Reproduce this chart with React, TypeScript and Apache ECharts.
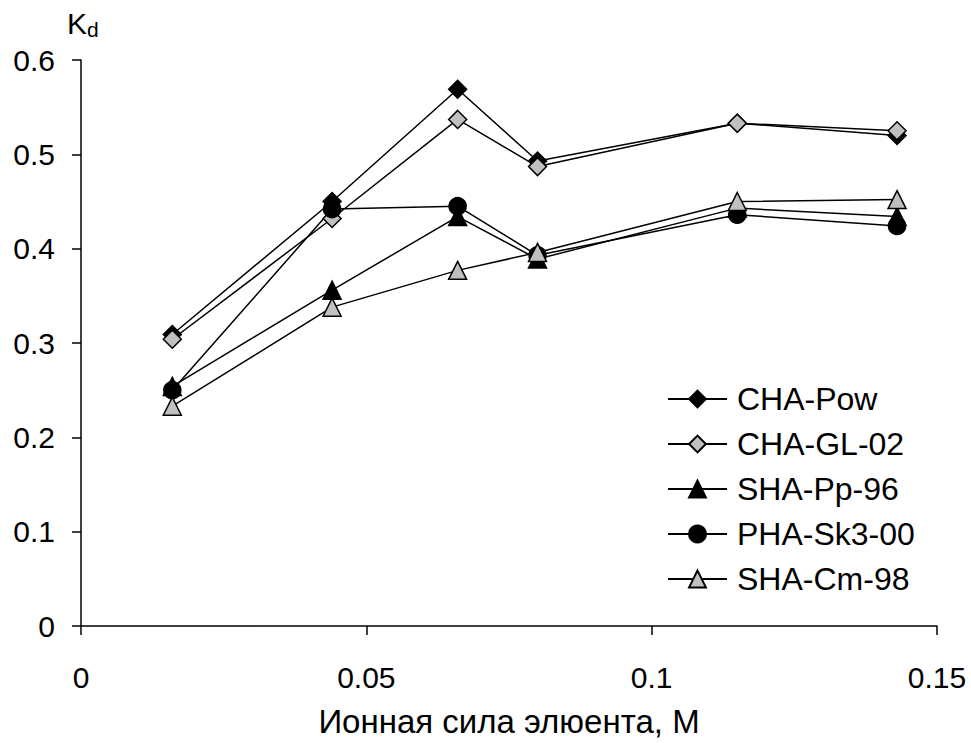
import React, { useEffect, useRef } from "react";
import * as echarts from "echarts";

const xValues = [0.016, 0.044, 0.066, 0.08, 0.115, 0.143];
const chaPow = [0.309, 0.45, 0.569, 0.493, 0.533, 0.52];
const chaGl02 = [0.304, 0.432, 0.537, 0.487, 0.533, 0.525];
const shaPp96 = [0.254, 0.356, 0.434, 0.389, 0.443, 0.434];
const phaSk300 = [0.25, 0.442, 0.445, 0.393, 0.436, 0.424];
const shaCm98 = [0.233, 0.338, 0.377, 0.396, 0.45, 0.452];

const seriesNames = ["CHA-Pow", "CHA-GL-02", "SHA-Pp-96", "PHA-Sk3-00", "SHA-Cm-98"];
const xTicks = [0, 0.05, 0.1, 0.15];
const xTitle = "Ионная сила элюента, M";

const FONT = "Liberation Sans, Arial, sans-serif";

function pairs(ys: number[]) {
  return xValues.map((x, i) => [x, ys[i]]);
}

export default function App() {
  const ref = useRef<HTMLDivElement>(null);
  useEffect(() => {
    if (!ref.current) return;
    const chart = echarts.init(ref.current, undefined, { renderer: "svg" });
    const mk = (name: string, ys: number[], symbol: string, fill: string, size: number) => ({
      name,
      type: "line",
      data: pairs(ys),
      symbol,
      symbolSize: size,
      showAllSymbol: true,
      lineStyle: { color: "#000", width: 1.5 },
      itemStyle: { color: fill, borderColor: "#000", borderWidth: 1.5 },
      emphasis: { disabled: true },
    });
    chart.setOption({
      animation: false,
      backgroundColor: "#fff",
      textStyle: { fontFamily: FONT },
      grid: { left: 81, right: 34, top: 60, bottom: 110, containLabel: false },
      xAxis: {
        type: "value",
        min: 0,
        max: 0.15,
        interval: 0.05,
        name: xTitle,
        nameLocation: "middle",
        nameGap: 79,
        nameTextStyle: { fontSize: 33, color: "#000", fontFamily: FONT },
        axisLine: { show: true, onZero: false, lineStyle: { color: "#000", width: 1.5 } },
        axisTick: { show: true, inside: false, length: 9, lineStyle: { color: "#000", width: 1.5 } },
        axisLabel: {
          fontSize: 30,
          color: "#000",
          fontFamily: FONT,
          margin: 36,
          formatter: (v: number) => {
            const t = xTicks.find((k) => Math.abs(k - v) < 1e-9);
            return t === undefined ? "" : String(t);
          },
        },
        splitLine: { show: false },
      },
      yAxis: {
        type: "value",
        min: 0,
        max: 0.6,
        interval: 0.1,
        axisLine: { show: true, onZero: false, lineStyle: { color: "#000", width: 1.5 } },
        axisTick: { show: true, inside: false, length: 9, lineStyle: { color: "#000", width: 1.5 } },
        axisLabel: {
          fontSize: 30,
          color: "#000",
          fontFamily: FONT,
          margin: 26,
          formatter: (v: number) => (v === 0 ? "0" : v.toFixed(1)),
        },
        splitLine: { show: false },
      },
      legend: {
        orient: "vertical",
        left: 662,
        top: 378,
        itemWidth: 59,
        itemHeight: 21,
        itemGap: 13,
        data: seriesNames,
        textStyle: { fontSize: 32, color: "#000", fontFamily: FONT, padding: [0, 0, 0, 5] },
      },
      graphic: [
        {
          type: "text",
          left: 67,
          top: 8,
          style: {
            text: "{k|K}{d|d}",
            rich: {
              k: { fontSize: 30, fill: "#000", fontFamily: FONT },
              d: { fontSize: 21, fill: "#000", fontFamily: FONT, padding: [12, 0, 0, 0] },
            },
          },
        },
      ],
      series: [
        mk(seriesNames[0], chaPow, "diamond", "#000", 18),
        mk(seriesNames[1], chaGl02, "diamond", "#c0c0c0", 18),
        mk(seriesNames[2], shaPp96, "triangle", "#000", 18),
        mk(seriesNames[3], phaSk300, "circle", "#000", 17),
        mk(seriesNames[4], shaCm98, "triangle", "#c0c0c0", 18),
      ],
    });
    return () => chart.dispose();
  }, []);
  return (
    <div
      ref={ref}
      style={{ position: "fixed", left: 0, top: 0, width: 971, height: 743, background: "#fff" }}
    />
  );
}
